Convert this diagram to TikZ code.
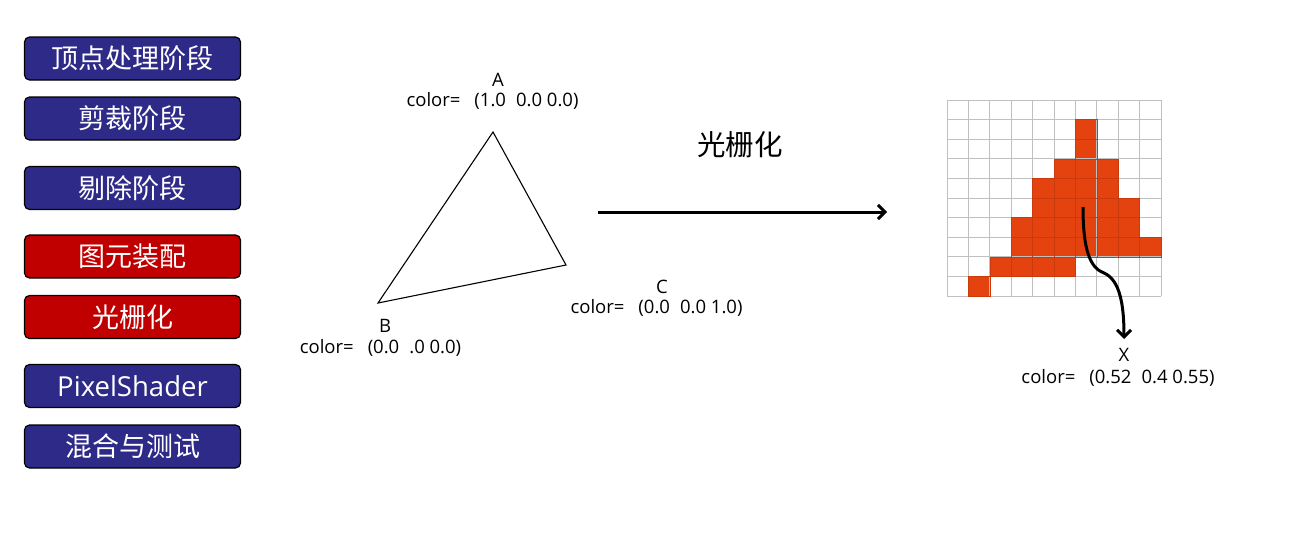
\documentclass[tikz,border=0pt]{standalone}
\usepackage{fontspec}
\setmainfont{Noto Sans CJK SC}
\newfontfamily\latinfont{Open Sans}
\usetikzlibrary{arrows.meta}
\definecolor{stageblue}{RGB}{46,42,136}
\definecolor{stagered}{RGB}{192,0,0}
\definecolor{pixfill}{RGB}{228,66,14}
\definecolor{gridgray}{RGB}{192,192,192}
\newcommand{\gapA}{\hspace{14pt}}
\newcommand{\gapB}{\hspace{10pt}}
\begin{document}
\begin{tikzpicture}[x=1pt,y=-1pt,
  stage/.style={draw=black, line width=1.2pt, rounded corners=5pt,
    minimum width=216pt, minimum height=43pt, inner sep=0pt,
    text=white, font=\fontsize{27}{30}\selectfont},
  bluestage/.style={stage, fill=stageblue},
  redstage/.style={stage, fill=stagered},
  lbl/.style={font=\latinfont\fontsize{18.5}{20}\selectfont, inner sep=0pt, text=black},
  title/.style={font=\fontsize{28.5}{32}\selectfont, inner sep=0pt},
  bigarrow/.style={line width=3pt, -{Straight Barb[length=7pt,width=14pt]}},
  gridline/.style={gridgray, line width=0.8pt},
]
\useasboundingbox (0,0) rectangle (1292,547);

% pipeline stages
\node[bluestage] (s1) at (132.5,58.5) {顶点处理阶段};
\node[bluestage] (s2) at (132.5,118.5) {剪裁阶段};
\node[bluestage] (s3) at (132.5,188) {剔除阶段};
\node[redstage]  (s4) at (132.5,256.5) {图元装配};
\node[redstage]  (s5) at (132.5,317) {光栅化};
\node[bluestage, font=\latinfont\fontsize{27.5}{30}\selectfont] (s6) at (132.5,386) {PixelShader};
\node[bluestage] (s7) at (132.5,446.5) {混合与测试};

% triangle
\coordinate (A) at (493,132);
\coordinate (B) at (378,303);
\coordinate (C) at (566,265);
\draw[line width=1.1pt, line join=miter] (A) -- (B) -- (C) -- cycle;

\node[lbl] (Aname) at (498,80) {A};
\node[lbl] (Acol) at (492.5,101) {color=\gapA(1.0\gapB0.0 0.0)};
\node[lbl] (Bname) at (385,326) {B};
\node[lbl] (Bcol) at (380.5,348) {color=\gapA(0.0\gapB.0 0.0)};
\node[lbl] (Cname) at (662,287) {C};
\node[lbl] (Ccol) at (656.5,308) {color=\gapA(0.0\gapB0.0 1.0)};

% rasterize arrow
\node[title] (rt) at (740,145) {光栅化};
\coordinate (r1) at (598,212);
\coordinate (r2) at (887,212);
\draw[bigarrow] (r1) -- (r2);

% pixel grid
\def\gx{947}\def\gy{100}\def\cw{21.4}\def\ch{19.6}
\foreach \c/\r in {6/1,6/2,5/3,6/3,7/3,4/4,5/4,6/4,7/4,
                   4/5,5/5,6/5,7/5,8/5,3/6,4/6,5/6,6/6,7/6,8/6,
                   3/7,4/7,5/7,6/7,7/7,8/7,9/7,2/8,3/8,4/8,5/8,1/9}
  \fill[pixfill] (\gx+\c*\cw,\gy+\r*\ch) rectangle ++(\cw,\ch);
\foreach \i in {0,...,10} {
  \draw[gridline] (\gx+\i*\cw,\gy) -- (\gx+\i*\cw,\gy+10*\ch);
  \draw[gridline] (\gx,\gy+\i*\ch) -- (\gx+10*\cw,\gy+\i*\ch);
}
\foreach \c/\r in {6/1,6/2,5/3,6/3,7/3,4/4,5/4,6/4,7/4,
                   4/5,5/5,6/5,7/5,8/5,3/6,4/6,5/6,6/6,7/6,8/6,
                   3/7,4/7,5/7,6/7,7/7,8/7,9/7,2/8,3/8,4/8,5/8,1/9}
  \draw[pixfill!88!black, line width=0.4pt] (\gx+\c*\cw,\gy+\r*\ch) rectangle ++(\cw,\ch);

% sample point arrow
\coordinate (xs) at (1083,207);
\coordinate (xe) at (1124,339);
\draw[line width=3pt, -{Straight Barb[length=7pt,width=14pt]}]
  (xs) .. controls (1083,250) and (1090,268) .. (1104,273)
       .. controls (1120,280) and (1124,305) .. (xe);
\node[lbl] (Xname) at (1124,355) {X};
\node[lbl] (Xcol) at (1118,378) {color=\gapA(0.52\gapB0.4 0.55)};
\end{tikzpicture}
\end{document}
